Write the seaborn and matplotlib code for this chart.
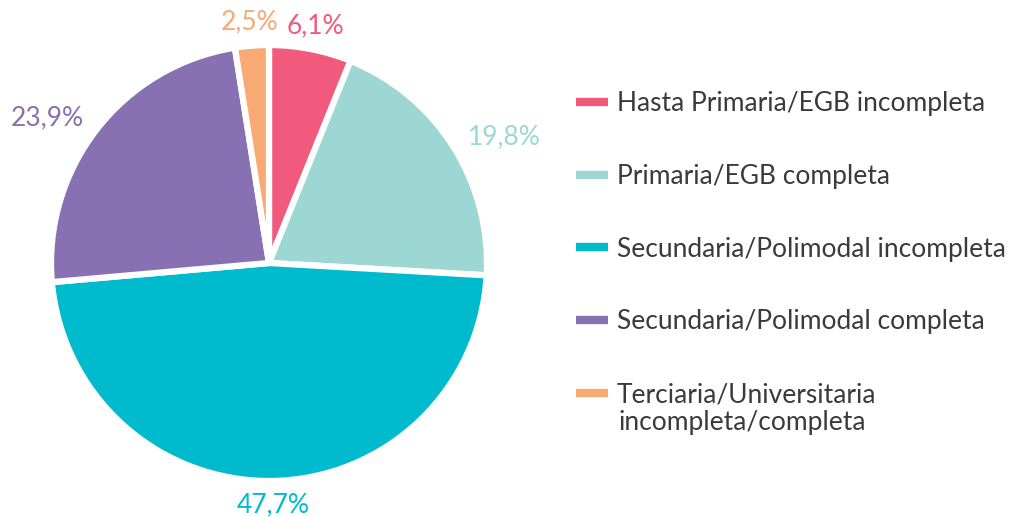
import numpy as np
import seaborn as sns
import matplotlib.pyplot as plt
from matplotlib.lines import Line2D

sns.set_theme(style="white")
plt.rcParams['font.family'] = ['Lato', 'DejaVu Sans']

categories = ['Hasta Primaria/EGB incompleta', 'Primaria/EGB completa',
              'Secundaria/Polimodal incompleta', 'Secundaria/Polimodal completa',
              'Terciaria/Universitaria\nincompleta/completa']
values = [6.1, 19.8, 47.7, 23.9, 2.5]
pct_labels = ['6,1%', '19,8%', '47,7%', '23,9%', '2,5%']
colors = ['#F15A7C', '#9DD7D3', '#00BACE', '#8771B2', '#F9AA74']

W, H = 1019, 517
cx, cy, R = 269, 263, 218   # pie centre / radius in pixels

fig = plt.figure(figsize=(W / 100, H / 100), dpi=100)
ax = fig.add_axes([0, 0, 1, 1])

wedges, texts = ax.pie(values, colors=colors, startangle=90, counterclock=False,
                       labels=pct_labels, labeldistance=1.08,
                       wedgeprops=dict(edgecolor='white', linewidth=4.5),
                       textprops=dict(fontsize=19))

# labels of wedges near top/bottom are centred
for w, t, c in zip(wedges, texts, colors):
    t.set_color(c)
    ang = np.deg2rad((w.theta1 + w.theta2) / 2)
    if abs(np.cos(ang)) < 0.5:
        r = 1.11
        t.set_position((r * np.cos(ang), r * np.sin(ang)))
        t.set_ha('center')

ax.set_xlim(-cx / R, (W - cx) / R)
ax.set_ylim(-(H - cy) / R, cy / R)
ax.set_aspect('auto')
ax.axis('off')

# legend: multi-line label split so the swatch sits on the first line
leg_labels = [c.split('\n')[0] for c in categories]
handles = [Line2D([0], [0], color=c, lw=6, solid_capstyle='butt') for c in colors]
leg = ax.legend(handles, leg_labels, loc='upper left',
                bbox_to_anchor=(576 / W, 1 - 91 / H),
                bbox_transform=fig.transFigure,
                frameon=False, fontsize=19, handlelength=1.21,
                handletextpad=0.34, labelspacing=1.81,
                borderpad=0, borderaxespad=0)
for t in leg.get_texts():
    t.set_color('#3a3a3a')

last = leg.get_texts()[-1]
ax.annotate(categories[-1].split('\n')[1], xy=(0, 0.5), xycoords=last,
            xytext=(1, -20.2), textcoords='offset points',
            ha='left', va='center', fontsize=19, color='#3a3a3a', zorder=10)

fig.savefig('out.png', dpi=100)
